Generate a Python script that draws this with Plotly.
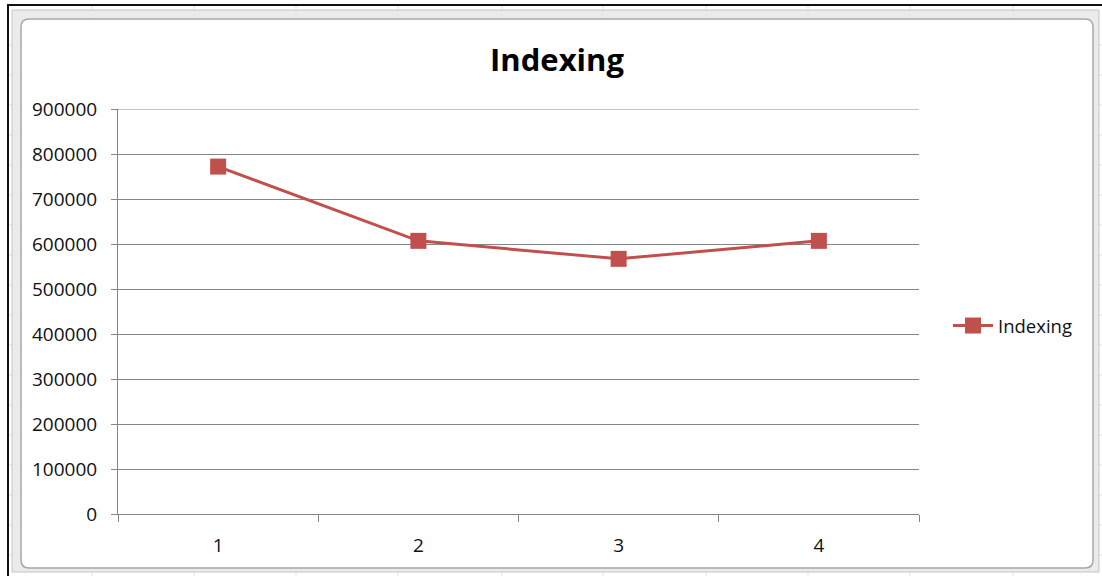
import plotly.graph_objects as go

# Series data
categories = [1, 2, 3, 4]
indexing_values = [772000, 607000, 567000, 607000]
series_name = "Indexing"
y_ticks = [0, 100000, 200000, 300000, 400000, 500000, 600000, 700000, 800000, 900000]

W, H = 1102, 576
PL, PR, PT, PB = 118, 919, 109, 514  # plot area in pixels


def px(x):
    return (x - PL) / (PR - PL)


def py(y):
    return (PB - y) / (PB - PT)


fig = go.Figure()
fig.add_trace(go.Scatter(
    x=categories, y=indexing_values, name=series_name,
    mode="lines+markers",
    line=dict(color="#C0504D", width=3),
    marker=dict(symbol="square", size=16, color="#C0504D"),
))

grid_col = "#858585"
shapes = []
# spreadsheet backdrop strip + chart selection frame
shapes.append(dict(type="rect", xref="paper", yref="paper", layer="below",
                   x0=px(8), x1=px(1102), y0=py(576), y1=py(5),
                   fillcolor="#ffffff", line=dict(width=0)))
for cx in [92, 194, 296, 398, 502, 603, 706, 808, 910, 1013]:
    shapes.append(dict(type="line", xref="paper", yref="paper", layer="below",
                       x0=px(cx), x1=px(cx), y0=py(576), y1=py(5),
                       line=dict(color="#e2e2e2", width=1)))
for ry in range(45, 576, 30):
    shapes.append(dict(type="line", xref="paper", yref="paper", layer="below",
                       x0=px(8), x1=px(1102), y0=py(ry), y1=py(ry),
                       line=dict(color="#e2e2e2", width=1)))
shapes.append(dict(type="rect", xref="paper", yref="paper", layer="below",
                   x0=px(12), x1=px(1099), y0=py(572), y1=py(10),
                   fillcolor="rgba(232,232,232,0.85)", line=dict(color="#c4c4c4", width=1)))

# white chart area with rounded corners
r = 8
x0, x1, y0, y1 = 21, 1093, 19, 568


def P(x, y):
    return f"{px(x)},{py(y)}"


path = (f"M {P(x0 + r, y0)} L {P(x1 - r, y0)} Q {P(x1, y0)} {P(x1, y0 + r)} "
        f"L {P(x1, y1 - r)} Q {P(x1, y1)} {P(x1 - r, y1)} "
        f"L {P(x0 + r, y1)} Q {P(x0, y1)} {P(x0, y1 - r)} "
        f"L {P(x0, y0 + r)} Q {P(x0, y0)} {P(x0 + r, y0)} Z")
shapes.append(dict(type="path", xref="paper", yref="paper", layer="below", path=path,
                   fillcolor="#ffffff", line=dict(color="#a8a8a8", width=1.5)))

# top gridline at the axis maximum
shapes.append(dict(type="line", xref="paper", yref="y", layer="below",
                   x0=px(112), x1=1, y0=y_ticks[-1], y1=y_ticks[-1],
                   line=dict(color=grid_col, width=1)))

# outer black border (top and left)
shapes.append(dict(type="line", xref="paper", yref="paper",
                   x0=px(7), x1=px(1102), y0=py(5), y1=py(5),
                   line=dict(color="#111111", width=2)))
shapes.append(dict(type="line", xref="paper", yref="paper",
                   x0=px(8), x1=px(8), y0=py(576), y1=py(4),
                   line=dict(color="#111111", width=2)))

font_family = "Open Sans, Lato, DejaVu Sans, sans-serif"

fig.update_layout(
    width=W, height=H,
    margin=dict(l=PL, r=W - PR, t=PT, b=H - PB, pad=0),
    paper_bgcolor="#ffffff",
    plot_bgcolor="rgba(0,0,0,0)",
    font=dict(family=font_family, size=19, color="#111111"),
    title=dict(text="<b>Indexing</b>", x=(557) / W, xanchor="center",
               y=1 - 60 / H, yanchor="middle",
               font=dict(family=font_family, size=31, color="#000000")),
    showlegend=True,
    legend=dict(x=px(948), xanchor="left", y=py(326), yanchor="middle",
                bgcolor="rgba(0,0,0,0)", itemwidth=40,
                font=dict(size=18.5, color="#111111")),
    shapes=shapes,
    xaxis=dict(
        range=[0.5, 4.5], tickvals=categories, ticktext=[str(c) for c in categories],
        ticks="", showgrid=False, zeroline=False,
        showline=True, linecolor=grid_col, linewidth=1,
        ticklabelstandoff=14,
        minor=dict(tickvals=[0.5, 1.5, 2.5, 3.5, 4.5], ticks="outside", ticklen=7,
                   tickcolor=grid_col, tickwidth=1, showgrid=False),
        fixedrange=True,
    ),
    yaxis=dict(
        range=[0, 900000], tickvals=y_ticks, ticktext=[str(v) for v in y_ticks],
        ticks="outside", ticklen=6, tickcolor=grid_col, tickwidth=1,
        showgrid=True, gridcolor=grid_col, gridwidth=1,
        zeroline=False, showline=True, linecolor=grid_col, linewidth=1,
        ticklabelstandoff=10,
        fixedrange=True,
    ),
)

fig.write_html("out.html")
